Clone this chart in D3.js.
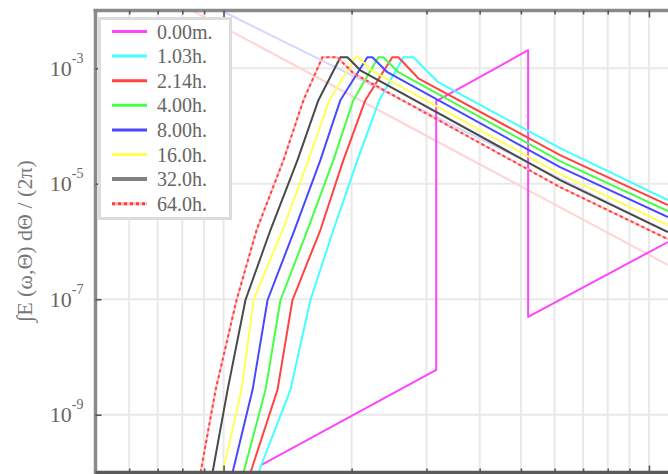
<!DOCTYPE html>
<html>
<head>
<meta charset="utf-8">
<script src="https://cdn.jsdelivr.net/npm/d3@7"></script>
<style>
  html, body { margin: 0; padding: 0; background: #fff; overflow: hidden; }
  svg { display: block; }
</style>
</head>
<body>
<svg id="chart" width="668" height="474"></svg>
<script>
// Integrated directional energy spectrum at successive times (log–log)

const seriesLabels = ["0.00m.", "1.03h.", "2.14h.", "4.00h.", "8.00h.", "16.0h.", "32.0h.", "64.0h."];

// frequency [Hz] and integrated energy for each curve
const f_000m = [0.1228, 0.3162, 0.3162, 0.5200, 0.5200, 1.108];
const e_000m = [1.36e-10, 6.0e-9, 2.69e-4, 2.05e-3, 4.94e-8, 9.8e-7];

const f_103h = [0.1208, 0.1436, 0.1600, 0.1812, 0.2064, 0.2324, 0.2646, 0.2793, 0.3196, 0.6181, 1.108];
const e_103h = [1.0e-10, 2.70e-9, 9.7e-8, 1.58e-6, 2.56e-5, 2.80e-4, 1.55e-3, 1.55e-3, 5.73e-4, 4.14e-5, 5.22e-6];

const f_214h = [0.1157, 0.1339, 0.1452, 0.1689, 0.1913, 0.2154, 0.2493, 0.2576, 0.2869, 0.6181, 1.108];
const e_214h = [1.0e-10, 2.70e-9, 9.7e-8, 1.58e-6, 2.56e-5, 2.80e-4, 1.55e-3, 1.55e-3, 6.71e-4, 3.13e-5, 4.28e-6];

const f_400h = [0.1114, 0.1255, 0.1361, 0.1575, 0.1812, 0.2019, 0.2311, 0.2375, 0.2576, 0.6181, 1.108];
const e_400h = [1.0e-10, 2.70e-9, 9.7e-8, 1.58e-6, 2.56e-5, 2.80e-4, 1.55e-3, 1.55e-3, 8.53e-4, 2.47e-5, 3.37e-6];

const f_800h = [0.1050, 0.1170, 0.1269, 0.1468, 0.1689, 0.1882, 0.2178, 0.2238, 0.2427, 0.6181, 1.108];
const e_800h = [1.0e-10, 2.70e-9, 9.7e-8, 1.58e-6, 2.56e-5, 2.80e-4, 1.55e-3, 1.55e-3, 8.53e-4, 1.94e-5, 2.65e-6];

const f_160h = [0.0995, 0.1102, 0.1176, 0.1376, 0.1583, 0.1773, 0.2041, 0.2074, 0.2226, 0.6181, 1.108];
const e_160h = [1.0e-10, 2.70e-9, 9.7e-8, 1.58e-6, 2.56e-5, 2.80e-4, 1.55e-3, 1.55e-3, 9.23e-4, 1.47e-5, 1.93e-6];

const f_320h = [0.0942, 0.1022, 0.1126, 0.1289, 0.1492, 0.1671, 0.1882, 0.1955, 0.2097, 0.6181, 1.108];
const e_320h = [1.0e-10, 2.70e-9, 9.7e-8, 1.58e-6, 2.56e-5, 2.80e-4, 1.55e-3, 1.55e-3, 9.23e-4, 1.16e-5, 1.46e-6];

const f_640h = [0.0883, 0.0958, 0.1073, 0.1196, 0.1383, 0.1541, 0.1708, 0.1852, 0.2019, 0.6181, 1.108];
const e_640h = [1.0e-10, 2.70e-9, 9.7e-8, 1.58e-6, 2.56e-5, 2.80e-4, 1.55e-3, 1.55e-3, 8.19e-4, 8.75e-6, 1.10e-6];

// faint reference slopes
const f_refPink = [0.0851, 1.108];
const e_refPink = [9.7e-3, 3.92e-7];
const f_refLav = [0.0995, 1.108];
const e_refLav = [9.7e-3, 1.46e-6];

// axis ticks
const yTickValues = [1e-3, 1e-5, 1e-7, 1e-9];
const yTickExponents = ["-3", "-5", "-7", "-9"];
const xGridValues = [0.06, 0.07, 0.08, 0.09, 0.1, 0.2, 0.3, 0.4, 0.5, 0.6, 0.7, 0.8, 0.9, 1, 2];
const xMajorValues = [0.1, 1];

const seriesColors = ["#ff44ff", "#44ffff", "#ff4444", "#44ff44", "#4848ff", "#ffff55", "#4a4a4a", "#ff4040"];

const seriesData = [
  [f_000m, e_000m], [f_103h, e_103h], [f_214h, e_214h], [f_400h, e_400h],
  [f_800h, e_800h], [f_160h, e_160h], [f_320h, e_320h], [f_640h, e_640h]
];

const serif = "'Liberation Serif', 'DejaVu Serif', serif";
const M = { left: 95.5, top: 10.5, bottom: 472.5, right: 777 };

const svg = d3.select("#chart");

const x = d3.scaleLog().domain([0.05, 2]).range([M.left, M.right]);
const y = d3.scaleLog().domain([1e-10, 1e-2]).range([M.bottom, M.top]);

svg.append("defs").append("clipPath").attr("id", "plotClip")
  .append("rect")
  .attr("x", M.left).attr("y", M.top)
  .attr("width", M.right - M.left).attr("height", M.bottom - M.top);

// grid
const grid = svg.append("g").attr("stroke", "#e9e9e9").attr("stroke-width", 2);
grid.selectAll("line.gx").data(xGridValues).join("line")
  .attr("x1", d => x(d)).attr("x2", d => x(d))
  .attr("y1", M.top).attr("y2", M.bottom);
grid.selectAll("line.gy").data(yTickValues).join("line")
  .attr("x1", M.left).attr("x2", M.right)
  .attr("y1", d => y(d)).attr("y2", d => y(d));

const line = d3.line().x(d => x(d[0])).y(d => y(d[1]));
const plot = svg.append("g").attr("clip-path", "url(#plotClip)").attr("fill", "none");

// reference lines
plot.append("path").attr("d", line(d3.zip(f_refLav, e_refLav)))
  .attr("stroke", "#d6d6ff").attr("stroke-width", 2);
plot.append("path").attr("d", line(d3.zip(f_refPink, e_refPink)))
  .attr("stroke", "#ffd4d4").attr("stroke-width", 2);

// spectra
seriesData.forEach((s, i) => {
  const pts = d3.zip(s[0], s[1]);
  if (i === 7) {
    plot.append("path").attr("d", line(pts))
      .attr("stroke", "#ffb8b8").attr("stroke-width", 2).attr("stroke-linejoin", "round");
    plot.append("path").attr("d", line(pts))
      .attr("stroke", seriesColors[i]).attr("stroke-width", 2)
      .attr("stroke-dasharray", "3,3").attr("stroke-linejoin", "round");
  } else {
    plot.append("path").attr("d", line(pts))
      .attr("stroke", seriesColors[i]).attr("stroke-width", 2).attr("stroke-linejoin", "round");
  }
});

// frame
const frame = svg.append("g");
frame.append("line").attr("x1", M.left - 2).attr("x2", 668).attr("y1", M.top).attr("y2", M.top)
  .attr("stroke", "#8a8a8a").attr("stroke-width", 3.5);
frame.append("line").attr("x1", M.left).attr("x2", M.left).attr("y1", M.top).attr("y2", 474)
  .attr("stroke", "#8a8a8a").attr("stroke-width", 3.5);
frame.append("line").attr("x1", M.left).attr("x2", 668).attr("y1", M.bottom).attr("y2", M.bottom)
  .attr("stroke", "#5a5a5a").attr("stroke-width", 3.5);

// tick marks, pointing inward
function styleTicks(g) {
  g.select(".domain").remove();
  g.selectAll(".tick line").attr("stroke", "#555").attr("stroke-width", 1.6);
}
svg.append("g").attr("transform", `translate(0,${M.top})`)
  .call(d3.axisTop(x).tickValues(xGridValues).tickSize(-4).tickFormat(""))
  .call(styleTicks)
  .call(g => g.selectAll(".tick line").filter(d => xMajorValues.includes(d)).attr("y2", 7));
svg.append("g").attr("transform", `translate(0,${M.bottom})`)
  .call(d3.axisBottom(x).tickValues(xGridValues).tickSize(-4).tickFormat(""))
  .call(styleTicks)
  .call(g => g.selectAll(".tick line").filter(d => xMajorValues.includes(d)).attr("y2", -7));

svg.append("g").attr("transform", `translate(${M.left},0)`)
  .call(d3.axisLeft(y).tickValues(yTickValues).tickSize(-6).tickPadding(12))
  .call(styleTicks)
  .call(g => g.selectAll(".tick text")
    .attr("font-family", serif).attr("font-size", 22).attr("fill", "#666")
    .each(function (d, i) {
      const t = d3.select(this);
      t.text(null);
      t.append("tspan").text("10");
      t.append("tspan").attr("dy", -13).attr("font-size", 14).text(yTickExponents[i]);
    }));

// y-axis title
svg.append("text")
  .attr("transform", "translate(32,241) rotate(-90)")
  .attr("text-anchor", "middle")
  .attr("font-family", serif).attr("font-size", 22).attr("fill", "#777")
  .text("∫E (ω,Θ) dΘ / (2π)");

// legend
const lg = svg.append("g");
lg.append("rect").attr("x", 99.5).attr("y", 18.5).attr("width", 131).attr("height", 200)
  .attr("fill", "#fff").attr("stroke", "#dcdcdc").attr("stroke-width", 3);
seriesLabels.forEach((lab, i) => {
  const cy = 31.5 + i * 24.6;
  if (i === 7) {
    lg.append("line").attr("x1", 112).attr("x2", 147).attr("y1", cy).attr("y2", cy)
      .attr("stroke", "#ffb8b8").attr("stroke-width", 3);
    lg.append("line").attr("x1", 112).attr("x2", 147).attr("y1", cy).attr("y2", cy)
      .attr("stroke", seriesColors[i]).attr("stroke-width", 3).attr("stroke-dasharray", "3,3");
  } else {
    lg.append("line").attr("x1", 112).attr("x2", 147).attr("y1", cy).attr("y2", cy)
      .attr("stroke", i === 6 ? "#808080" : seriesColors[i]).attr("stroke-width", i === 6 ? 4 : 3);
  }
  lg.append("text").attr("x", 157).attr("y", cy).attr("dy", "0.35em")
    .attr("font-family", serif).attr("font-size", 20).attr("fill", "#666")
    .text(lab);
});
</script>
</body>
</html>
